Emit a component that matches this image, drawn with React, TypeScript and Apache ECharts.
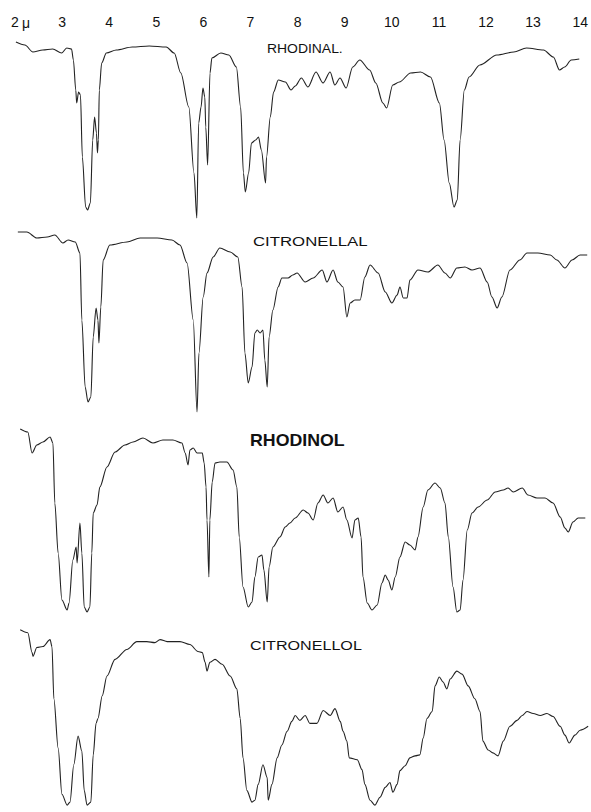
import React, { useEffect, useRef } from "react";
import * as echarts from "echarts";

// Wavelength ticks (microns)
const TICKS = [2, 3, 4, 5, 6, 7, 8, 9, 10, 11, 12, 13, 14];

// Spectrum titles
const TITLES = ["RHODINAL.", "CITRONELLAL", "RHODINOL", "CITRONELLOL"];

// [wavelength µ, % transmission]
const RHODINAL: [number, number][] = [
  [2.02, 99], [2.21, 97.5], [2.38, 94], [2.59, 95], [2.8, 95.5], [2.99, 93.5], [3.1, 96], [3.2, 95.5],
  [3.24, 90], [3.29, 75], [3.31, 68.5], [3.35, 74], [3.39, 72.5], [3.43, 41.5], [3.5, 16.5], [3.54, 15],
  [3.6, 18.5], [3.65, 50], [3.69, 61.5], [3.73, 53.5], [3.75, 43.5], [3.77, 50], [3.79, 75], [3.84, 88.5],
  [3.94, 93.5], [4.15, 95], [4.49, 96.5], [4.85, 97], [5.21, 96.5], [5.38, 93.5], [5.52, 83.5], [5.69, 66.5],
  [5.8, 33.5], [5.86, 11], [5.9, 58.5], [5.95, 66.5], [5.99, 76], [6.03, 71.5], [6.05, 56.5], [6.09, 37.5],
  [6.14, 83.5], [6.18, 91], [6.37, 93.5], [6.54, 92.5], [6.7, 86.5], [6.79, 66.5], [6.85, 33.5], [6.89, 24],
  [6.96, 33.5], [7.02, 48.5], [7.11, 50], [7.17, 51.5], [7.23, 45], [7.32, 28.5], [7.34, 41.5], [7.42, 61.5],
  [7.49, 74], [7.59, 80], [7.74, 79], [7.86, 75], [7.95, 77], [8.08, 81], [8.22, 76.5], [8.39, 84],
  [8.54, 78.5], [8.69, 84], [8.79, 77.5], [8.9, 81], [9.03, 76], [9.17, 86.5], [9.32, 90], [9.53, 85],
  [9.66, 78.5], [9.81, 68.5], [9.89, 66], [10.02, 77.5], [10.16, 79], [10.4, 83.5], [10.61, 84], [10.82, 81.5],
  [11.01, 68.5], [11.11, 50], [11.22, 28.5], [11.32, 16.5], [11.39, 20], [11.45, 50], [11.54, 75], [11.64, 81.5],
  [11.87, 87.5], [12.23, 92.5], [12.59, 94], [12.86, 96], [13.22, 95], [13.43, 91.5], [13.56, 85], [13.67, 86.5],
  [13.81, 90], [13.98, 90.5],
];

const CITRONELLAL: [number, number][] = [
  [2.06, 96.5], [2.25, 96.5], [2.46, 93.5], [2.68, 94], [2.84, 95], [3.01, 91], [3.12, 92.5], [3.27, 91.5],
  [3.37, 86], [3.41, 52.5], [3.48, 19], [3.54, 11.5], [3.6, 14], [3.65, 44], [3.71, 58.5], [3.75, 52.5],
  [3.77, 41], [3.81, 59], [3.86, 82.5], [4.0, 90], [4.36, 91.5], [4.64, 93.5], [5.0, 93.5], [5.31, 92.5],
  [5.48, 90], [5.63, 81], [5.76, 52.5], [5.84, 6.5], [5.88, 36], [5.97, 64], [6.05, 76], [6.18, 84],
  [6.32, 88.5], [6.54, 86.5], [6.7, 84], [6.79, 69], [6.85, 36], [6.92, 21], [7.0, 29], [7.06, 46],
  [7.11, 47.5], [7.17, 46], [7.23, 47.5], [7.27, 32.5], [7.32, 19], [7.36, 44], [7.44, 57.5], [7.55, 69],
  [7.63, 73.5], [7.76, 73.5], [7.86, 75], [7.95, 76], [8.12, 71.5], [8.29, 73.5], [8.48, 77.5], [8.58, 71.5],
  [8.71, 77.5], [8.81, 71.5], [8.92, 69], [9.0, 54], [9.07, 61], [9.17, 62.5], [9.28, 62.5], [9.38, 74],
  [9.49, 80], [9.66, 76], [9.81, 66.5], [9.95, 61], [10.06, 65], [10.12, 69], [10.19, 63.5], [10.27, 63.5],
  [10.33, 72.5], [10.5, 77.5], [10.71, 76.5], [10.92, 80], [11.07, 76], [11.18, 73.5], [11.32, 78.5], [11.49, 79],
  [11.64, 77.5], [11.81, 78.5], [11.96, 71.5], [12.06, 64], [12.17, 58.5], [12.27, 64], [12.44, 77.5], [12.65, 82.5],
  [12.8, 86], [13.03, 86], [13.29, 85], [13.43, 82.5], [13.6, 78.5], [13.75, 82.5], [13.92, 85], [14.07, 85],
];

const RHODINOL: [number, number][] = [
  [2.11, 95.5], [2.27, 94], [2.36, 83.5], [2.46, 87.5], [2.59, 89], [2.74, 91.5], [2.8, 88.5], [2.84, 58.5],
  [2.91, 33.5], [2.99, 10], [3.1, 5], [3.14, 8.5], [3.22, 30], [3.29, 36.5], [3.31, 28.5], [3.37, 48.5],
  [3.41, 33.5], [3.46, 6.5], [3.52, 4], [3.58, 6.5], [3.62, 33.5], [3.65, 53.5], [3.73, 57.5], [3.79, 66.5],
  [3.94, 76.5], [4.11, 84], [4.32, 87.5], [4.49, 89], [4.7, 91], [4.91, 88.5], [5.12, 90], [5.33, 90],
  [5.52, 88.5], [5.59, 83.5], [5.65, 77.5], [5.69, 85], [5.76, 86], [5.84, 83.5], [5.95, 83.5], [5.99, 78.5],
  [6.03, 66.5], [6.05, 50], [6.09, 21.5], [6.11, 50], [6.16, 69], [6.22, 78.5], [6.32, 79], [6.47, 79],
  [6.6, 75], [6.68, 66.5], [6.73, 41.5], [6.81, 16.5], [6.92, 6.5], [7.0, 9], [7.06, 21.5], [7.13, 31.5],
  [7.21, 32.5], [7.25, 25], [7.32, 9], [7.36, 26.5], [7.44, 36.5], [7.59, 41.5], [7.7, 46.5], [7.8, 48.5],
  [7.91, 51], [8.08, 55], [8.18, 53.5], [8.29, 50], [8.39, 58.5], [8.5, 62.5], [8.6, 58.5], [8.71, 61],
  [8.81, 54], [8.92, 56.5], [9.0, 50], [9.11, 41], [9.17, 50], [9.24, 51], [9.3, 41.5], [9.34, 21.5],
  [9.43, 8.5], [9.53, 5], [9.64, 7.5], [9.74, 18.5], [9.81, 22.5], [9.87, 20], [9.95, 15], [10.02, 21.5],
  [10.12, 31.5], [10.23, 39], [10.33, 37.5], [10.44, 35], [10.5, 41.5], [10.61, 56.5], [10.71, 65], [10.86, 68.5],
  [10.97, 66], [11.07, 58.5], [11.14, 41.5], [11.24, 16.5], [11.32, 4], [11.39, 5], [11.45, 20], [11.54, 45],
  [11.64, 53.5], [11.77, 56.5], [11.96, 60], [12.13, 64], [12.3, 65], [12.4, 66], [12.51, 64], [12.7, 66],
  [12.82, 62.5], [13.01, 61], [13.18, 61], [13.35, 58.5], [13.5, 51.5], [13.6, 46], [13.67, 44], [13.77, 49],
  [13.88, 51], [14.03, 51],
];

const CITRONELLOL: [number, number][] = [
  [2.11, 92.5], [2.27, 91], [2.36, 81], [2.38, 79], [2.46, 83.5], [2.59, 84], [2.74, 87.5], [2.78, 84],
  [2.82, 57.5], [2.91, 32.5], [2.99, 9], [3.1, 3.5], [3.16, 5], [3.24, 24], [3.33, 38.5], [3.41, 31],
  [3.46, 11], [3.52, 3.5], [3.6, 5], [3.65, 29], [3.71, 45], [3.75, 47.5], [3.84, 59], [3.94, 69],
  [4.11, 77.5], [4.36, 82.5], [4.57, 86.5], [4.78, 86.5], [4.95, 86], [5.06, 87.5], [5.21, 86.5], [5.48, 86.5],
  [5.69, 85], [5.86, 81.5], [5.95, 81], [6.01, 76], [6.05, 71.5], [6.11, 76], [6.22, 77.5], [6.37, 75],
  [6.54, 69], [6.68, 62.5], [6.75, 47.5], [6.81, 27.5], [6.89, 11], [7.0, 5], [7.06, 6], [7.13, 14],
  [7.23, 24], [7.32, 17.5], [7.34, 6], [7.42, 14], [7.53, 27.5], [7.63, 34], [7.74, 41], [7.84, 46],
  [7.91, 49], [8.01, 46.5], [8.12, 49], [8.22, 45], [8.37, 45], [8.5, 51.5], [8.65, 49], [8.75, 52.5],
  [8.86, 46], [8.92, 41], [9.0, 36], [9.05, 27.5], [9.22, 26.5], [9.32, 21.5], [9.38, 14], [9.49, 6],
  [9.59, 3.5], [9.7, 7.5], [9.81, 12.5], [9.91, 15], [9.97, 10], [10.06, 14], [10.12, 21], [10.23, 23.5],
  [10.33, 27.5], [10.44, 28.5], [10.54, 29], [10.61, 37.5], [10.69, 47.5], [10.8, 51], [10.86, 64], [10.95, 68.5],
  [11.03, 66], [11.11, 62.5], [11.18, 67.5], [11.32, 71.5], [11.43, 70], [11.56, 64], [11.7, 57.5], [11.81, 51],
  [11.87, 36], [11.98, 31.5], [12.08, 30], [12.19, 28.5], [12.3, 36], [12.44, 43.5], [12.59, 46.5], [12.7, 49],
  [12.8, 51], [12.93, 50], [13.08, 49], [13.22, 50], [13.35, 48.5], [13.5, 43.5], [13.6, 39], [13.69, 35],
  [13.81, 39], [13.92, 41.5], [14.09, 43.5],
];

const SPECTRA = [RHODINAL, CITRONELLAL, RHODINOL, CITRONELLOL];

export default function App() {
  const ref = useRef<HTMLDivElement>(null);

  useEffect(() => {
    if (!ref.current) return;
    const chart = echarts.init(ref.current, undefined, { renderer: "svg" });
    const tops = [40, 225, 420, 615];
    const grids = tops.map((t) => ({ left: 15, right: 0, top: t, height: 200 }));
    const xAxes = tops.map((_, i) => ({
      type: "value",
      gridIndex: i,
      min: 2,
      max: 14.15,
      interval: 1,
      position: "top",
      show: i === 0,
      axisLine: { show: false },
      axisTick: { show: false },
      splitLine: { show: false },
      axisLabel: {
        show: i === 0,
        margin: 11,
        color: "#111",
        fontFamily: "Liberation Sans",
        fontSize: 14,
        formatter: (v: number) => (TICKS.includes(v) ? String(v) : ""),
      },
    }));
    const yAxes = tops.map((_, i) => ({
      type: "value",
      gridIndex: i,
      min: 0,
      max: 100,
      show: false,
    }));
    const series = SPECTRA.map((d, i) => ({
      type: "line",
      xAxisIndex: i,
      yAxisIndex: i,
      data: d,
      showSymbol: false,
      smooth: 0.3,
      smoothMonotone: "x",
      lineStyle: { color: "#222", width: 1.1 },
      clip: false,
    }));
    const titleText = (
      text: string,
      x: number,
      y: number,
      size: number,
      sx: number,
      bold = false
    ) => ({
      type: "text",
      x,
      y,
      scaleX: sx,
      style: {
        text,
        fill: "#111",
        font: `${bold ? "bold " : ""}${size}px "Liberation Sans", Arial, sans-serif`,
        textAlign: "left",
        textVerticalAlign: "middle",
      },
    });
    chart.setOption({
      animation: false,
      backgroundColor: "#fff",
      grid: grids,
      xAxis: xAxes,
      yAxis: yAxes,
      series,
      graphic: [
        {
          type: "text",
          x: 22,
          y: 23,
          style: {
            text: "μ",
            fill: "#111",
            font: '14px "Liberation Sans", Arial, sans-serif',
            textAlign: "left",
            textVerticalAlign: "middle",
          },
        },
        titleText(TITLES[0], 267, 49, 12, 1.16),
        titleText(TITLES[1], 253, 241, 13, 1.29),
        titleText(TITLES[2], 250, 441, 16, 1.11, true),
        titleText(TITLES[3], 250, 646, 13, 1.24),
      ],
    });
    return () => chart.dispose();
  }, []);

  return (
    <div
      ref={ref}
      style={{ position: "fixed", left: 0, top: 0, width: 591, height: 812, background: "#fff" }}
    />
  );
}
